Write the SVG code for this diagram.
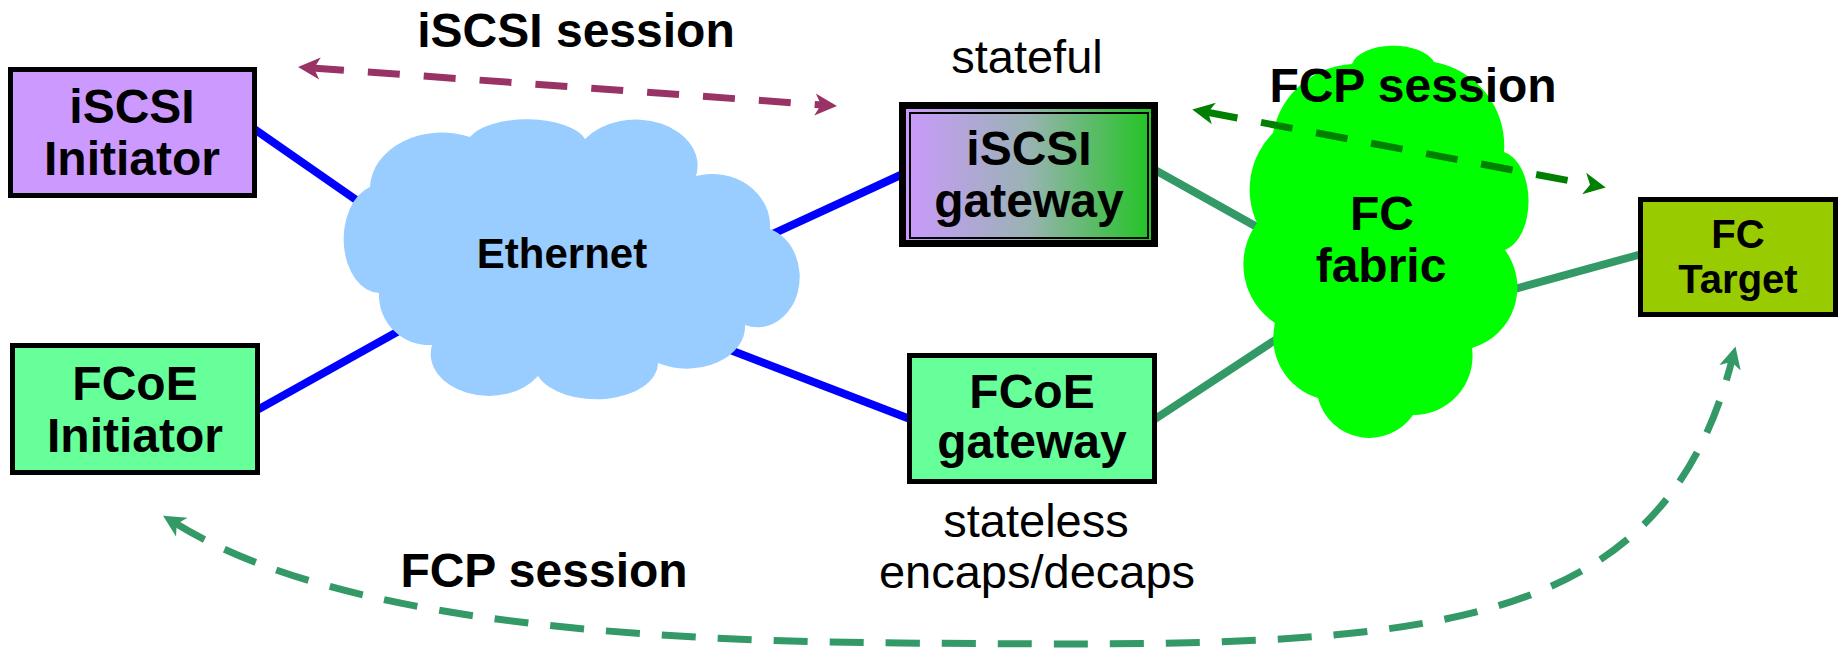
<svg xmlns="http://www.w3.org/2000/svg" width="1839" height="654" viewBox="0 0 1839 654">
<style>
text{font-family:"Liberation Sans",Arial,sans-serif;text-anchor:middle;fill:#000}
.b{font-weight:bold;font-size:48px}
.r{font-size:47px}
.box{stroke:#000;stroke-width:5}
.eth{stroke:#0000FF;stroke-width:8;fill:none}
.fc{stroke:#339966;stroke-width:8;fill:none}
.dash{fill:none;stroke-width:7}
</style>
<defs>
<linearGradient id="gw" x1="0" y1="0" x2="1" y2="0">
<stop offset="0" stop-color="#CC99FF"/>
<stop offset="0.5" stop-color="#99B3B3"/>
<stop offset="1" stop-color="#1FC41F"/>
</linearGradient>
<marker id="aP" markerUnits="userSpaceOnUse" viewBox="0 -12 24 24" refX="8" refY="0" markerWidth="24" markerHeight="24" orient="auto-start-reverse"><path d="M0,-11 L22,0 L0,11 L6,0 Z" fill="#993366"/></marker>
<marker id="aG" markerUnits="userSpaceOnUse" viewBox="0 -12 24 24" refX="8" refY="0" markerWidth="24" markerHeight="24" orient="auto-start-reverse"><path d="M0,-11 L22,0 L0,11 L6,0 Z" fill="#008000"/></marker>
<marker id="aS" markerUnits="userSpaceOnUse" viewBox="0 -12 24 24" refX="8" refY="0" markerWidth="24" markerHeight="24" orient="auto-start-reverse"><path d="M0,-11 L22,0 L0,11 L6,0 Z" fill="#339966"/></marker>
</defs>
<rect width="1839" height="654" fill="#fff"/>
<g id="connectors">
<line class="eth" x1="250" y1="126" x2="375" y2="213"/>
<line class="eth" x1="250" y1="414" x2="415" y2="322"/>
<line class="eth" x1="755" y1="242" x2="905" y2="173"/>
<line class="eth" x1="712" y1="343" x2="910" y2="419"/>
<line class="fc" x1="1155" y1="170" x2="1275" y2="237"/>
<line class="fc" x1="1500" y1="293" x2="1642" y2="254"/>
<line class="fc" x1="1152" y1="421" x2="1295" y2="327"/>
</g>
<g id="ethernet">
<path d="M379,293 A36,54 0 0 1 370,187 A72,56 0 0 1 470,137 A60,26 0 0 1 585,139 A62,46 0 0 1 696,176 A58,52 0 0 1 770,229 A42,50 0 0 1 745,325 A58,42 0 0 1 658,363 A62,36 0 0 1 538,376 A58,42 0 0 1 432,345 A50,50 0 0 1 379,293 Z" fill="#99CCFF"/>
<text x="562" y="268" style="font-weight:bold;font-size:42px">Ethernet</text>
</g>
<g id="fc-fabric">
<path d="M1352,64 A42,22 0 0 1 1434,62 A85,85 0 0 1 1504,152 A30,50 0 0 1 1505,250 A63,63 0 0 1 1472,348 A59,59 0 0 1 1413,415 A53,53 0 0 1 1318,398 A63,63 0 0 1 1275,323 A70,70 0 0 1 1257,223 A80,80 0 0 1 1273,133 A85,85 0 0 1 1352,64 Z" fill="#00FF00"/>
<text class="b" x="1382" y="230">FC</text>
<text class="b" x="1381" y="282">fabric</text>
</g>
<g id="iscsi-initiator">
<rect class="box" x="10.5" y="69.5" width="244" height="126" fill="#CC99FF"/>
<text class="b" x="132" y="123">iSCSI</text>
<text class="b" x="132" y="175">Initiator</text>
</g>
<g id="fcoe-initiator">
<rect class="box" x="12.5" y="345.5" width="245" height="127" fill="#66FF99"/>
<text class="b" x="135" y="400">FCoE</text>
<text class="b" x="135" y="452">Initiator</text>
</g>
<g id="iscsi-gateway">
<rect x="902.5" y="105.5" width="252" height="138" fill="url(#gw)" stroke="#000" stroke-width="7"/>
<rect x="910" y="113" width="238" height="125" fill="none" stroke="#000" stroke-width="2"/>
<text class="b" x="1029" y="165">iSCSI</text>
<text class="b" x="1029" y="217">gateway</text>
<text class="r" x="1027" y="73">stateful</text>
</g>
<g id="fcoe-gateway">
<rect class="box" x="909.5" y="355.5" width="245" height="126" fill="#66FF99"/>
<text class="b" x="1032" y="408">FCoE</text>
<text class="b" x="1032" y="458">gateway</text>
<text class="r" x="1036" y="537">stateless</text>
<text class="r" x="1037" y="588">encaps/decaps</text>
</g>
<g id="fc-target">
<rect class="box" x="1640.5" y="199.5" width="195" height="115" fill="#99CC00"/>
<text x="1738" y="248" style="font-weight:bold;font-size:40px">FC</text>
<text x="1738" y="293" style="font-weight:bold;font-size:40px">Target</text>
</g>
<g id="sessions">
<path class="dash" d="M312,68 L823,105" stroke="#993366" stroke-dasharray="32 24" marker-start="url(#aP)" marker-end="url(#aP)"/>
<path class="dash" d="M1206,112 L1592,185" stroke="#008000" stroke-dasharray="32 24" marker-start="url(#aG)" marker-end="url(#aG)"/>
<path class="dash" d="M175,523 C300,600 520,640 900,643 C1400,647 1657,651 1732,360" stroke="#339966" stroke-dasharray="34 22" marker-start="url(#aS)" marker-end="url(#aS)"/>
</g>
<g id="labels">
<text class="b" x="576" y="47">iSCSI session</text>
<text class="b" x="1413" y="102">FCP session</text>
<text class="b" x="544" y="587">FCP session</text>
</g>
</svg>
